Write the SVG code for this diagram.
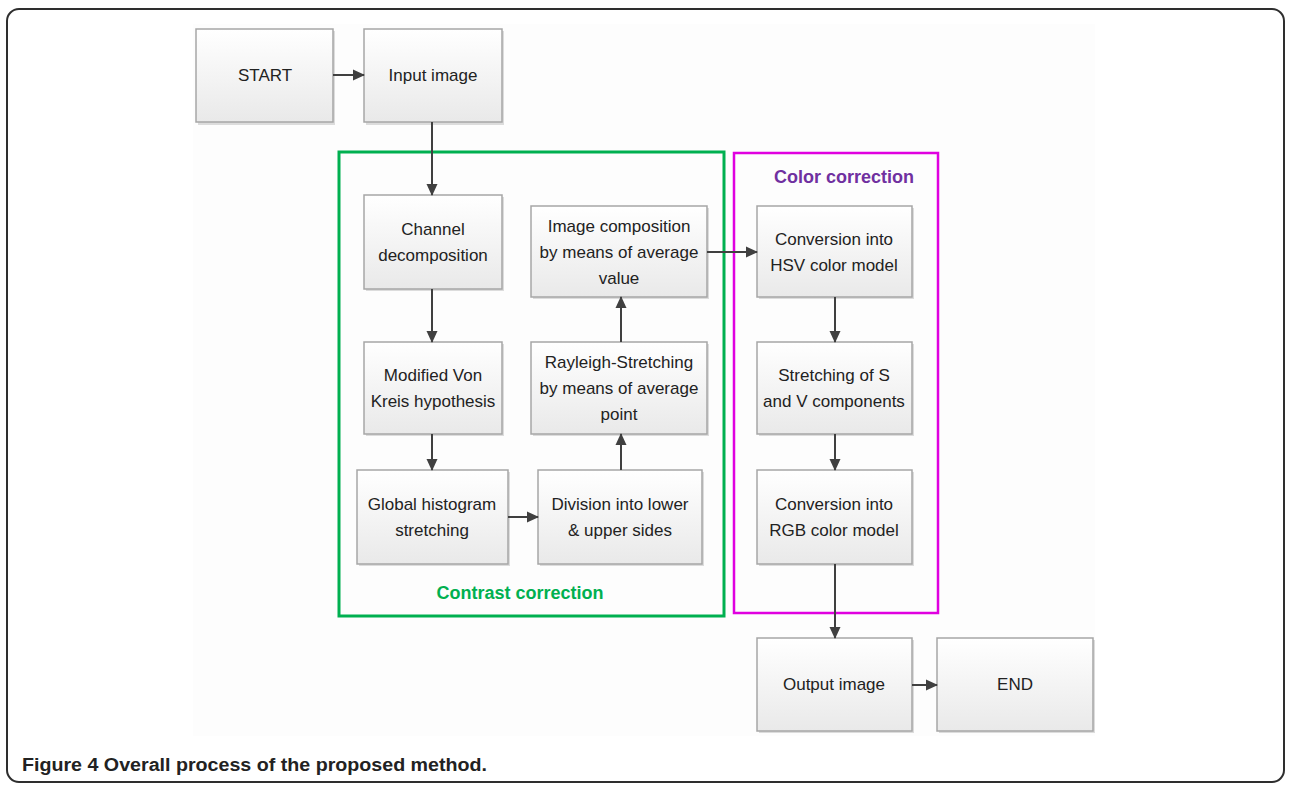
<svg xmlns="http://www.w3.org/2000/svg" width="1294" height="785" viewBox="0 0 1294 785">
<defs>
<linearGradient id="g" x1="0" y1="0" x2="0" y2="1">
<stop offset="0" stop-color="#ffffff"/>
<stop offset="1" stop-color="#e9e9e9"/>
</linearGradient>
<marker id="ah" markerWidth="12" markerHeight="12" refX="11" refY="6" orient="auto" markerUnits="userSpaceOnUse">
<path d="M0,0.5 L12,6 L0,11.5 Z" fill="#404040"/>
</marker>
<style>
.box{fill:url(#g);stroke:#a6a6a6;stroke-width:1.5}
.sh{fill:#dcdcdc}
.t{font-family:"Liberation Sans",Arial,sans-serif;font-size:17px;fill:#222;text-anchor:middle}
.c{stroke:#404040;stroke-width:2;fill:none;marker-end:url(#ah)}
</style>
</defs>
<rect x="0" y="0" width="1294" height="785" fill="#ffffff"/>
<rect x="7" y="9" width="1277" height="773" rx="12" fill="none" stroke="#2e2e2e" stroke-width="2"/>
<rect x="193" y="24" width="902" height="712" fill="#fdfdfd"/>

<g id="contrast-group">
<rect x="339" y="152" width="385" height="464" fill="none" stroke="#00b050" stroke-width="3"/>
<text x="520" y="599" style="font-family:'Liberation Sans',Arial,sans-serif;font-size:18px;font-weight:bold;fill:#00b050;text-anchor:middle">Contrast correction</text>
</g>
<g id="color-group">
<rect x="734" y="153" width="204" height="460" fill="none" stroke="#e000e0" stroke-width="2.5"/>
<text x="844" y="183" style="font-family:'Liberation Sans',Arial,sans-serif;font-size:18px;font-weight:bold;fill:#7030a0;text-anchor:middle">Color correction</text>
</g>

<g id="start"><rect class="sh" x="198" y="31" width="137" height="94"/><rect class="box" x="196" y="29" width="137" height="93"/><text class="t" x="265" y="81">START</text></g>
<g id="input"><rect class="sh" x="366" y="31" width="138" height="94"/><rect class="box" x="364" y="29" width="138" height="93"/><text class="t" x="433" y="81">Input image</text></g>
<g id="channel"><rect class="sh" x="366" y="197" width="138" height="94"/><rect class="box" x="364" y="195" width="138" height="94"/><text class="t" x="433" y="235">Channel</text><text class="t" x="433" y="261">decomposition</text></g>
<g id="vonkreis"><rect class="sh" x="366" y="344" width="138" height="92"/><rect class="box" x="364" y="342" width="138" height="92"/><text class="t" x="433" y="381">Modified Von</text><text class="t" x="433" y="407">Kreis hypothesis</text></g>
<g id="global"><rect class="sh" x="359" y="472" width="151" height="94"/><rect class="box" x="357" y="470" width="151" height="94"/><text class="t" x="432" y="510">Global histogram</text><text class="t" x="432" y="536">stretching</text></g>
<g id="division"><rect class="sh" x="540" y="472" width="164" height="94"/><rect class="box" x="538" y="470" width="164" height="94"/><text class="t" x="620" y="510">Division into lower</text><text class="t" x="620" y="536">&amp; upper sides</text></g>
<g id="rayleigh"><rect class="sh" x="533" y="344" width="176" height="92"/><rect class="box" x="531" y="342" width="176" height="92"/><text class="t" x="619" y="368">Rayleigh-Stretching</text><text class="t" x="619" y="394">by means of average</text><text class="t" x="619" y="420">point</text></g>
<g id="composition"><rect class="sh" x="533" y="208" width="176" height="91"/><rect class="box" x="531" y="206" width="176" height="91"/><text class="t" x="619" y="232">Image composition</text><text class="t" x="619" y="258">by means of average</text><text class="t" x="619" y="284">value</text></g>
<g id="hsv"><rect class="sh" x="759" y="208" width="155" height="91"/><rect class="box" x="757" y="206" width="155" height="91"/><text class="t" x="834" y="245">Conversion into</text><text class="t" x="834" y="271">HSV color model</text></g>
<g id="stretch-sv"><rect class="sh" x="759" y="344" width="155" height="92"/><rect class="box" x="757" y="342" width="155" height="92"/><text class="t" x="834" y="381">Stretching of S</text><text class="t" x="834" y="407">and V components</text></g>
<g id="rgb"><rect class="sh" x="759" y="472" width="155" height="94"/><rect class="box" x="757" y="470" width="155" height="94"/><text class="t" x="834" y="510">Conversion into</text><text class="t" x="834" y="536">RGB color model</text></g>
<g id="output"><rect class="sh" x="759" y="640" width="155" height="93"/><rect class="box" x="757" y="638" width="155" height="93"/><text class="t" x="834" y="690">Output image</text></g>
<g id="end"><rect class="sh" x="939" y="640" width="156" height="93"/><rect class="box" x="937" y="638" width="156" height="93"/><text class="t" x="1015" y="690">END</text></g>

<g id="connectors">
<line class="c" x1="333" y1="75" x2="364" y2="75"/>
<line class="c" x1="432" y1="122" x2="432" y2="195"/>
<line class="c" x1="432" y1="289" x2="432" y2="342"/>
<line class="c" x1="432" y1="434" x2="432" y2="470"/>
<line class="c" x1="508" y1="517" x2="538" y2="517"/>
<line class="c" x1="621" y1="470" x2="621" y2="434"/>
<line class="c" x1="621" y1="342" x2="621" y2="297"/>
<line class="c" x1="707" y1="252" x2="757" y2="252"/>
<line class="c" x1="835" y1="297" x2="835" y2="342"/>
<line class="c" x1="835" y1="434" x2="835" y2="470"/>
<line class="c" x1="835" y1="564" x2="835" y2="638"/>
<line class="c" x1="912" y1="685" x2="937" y2="685"/>
</g>

<text x="22" y="771" textLength="465" lengthAdjust="spacingAndGlyphs" style="font-family:'Liberation Sans',Arial,sans-serif;font-size:18px;font-weight:bold;fill:#222">Figure 4 Overall process of the proposed method.</text>
</svg>
